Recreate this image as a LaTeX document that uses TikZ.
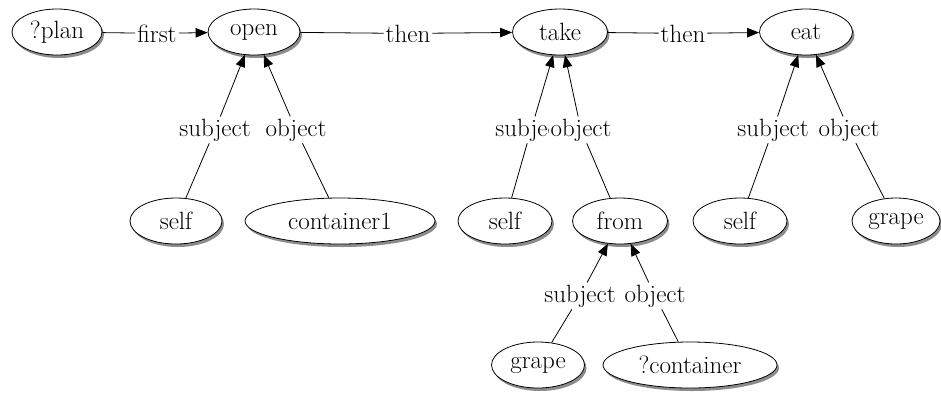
\documentclass[tikz,border=0pt]{standalone}
\usepackage{fontspec}
\usetikzlibrary{shapes.geometric,shadows,arrows.meta}
\begin{document}
\begin{tikzpicture}[x=1pt,y=-1pt,
		font=\fontsize{25}{30}\selectfont,
		ent/.style={ellipse,draw,line width=0.8pt,fill=white,inner sep=0pt,
			minimum height=46,minimum width=#1,
			drop shadow={shadow xshift=2pt,shadow yshift=-3pt,opacity=1,fill=black!45}},
		ent/.default=93,
		lbl/.style={fill=white,inner sep=2pt,anchor=base},
		arr/.style={-{Triangle[length=12pt,width=9.5pt]}}]
		\useasboundingbox (0,0) rectangle (941,392);
		\node[ent=90] (plan) at (57,32) {?plan};
		\node[ent=92] (open) at (254,32) {open};
		\node[ent=95] (take) at (560,32) {take};
		\node[ent=93] (eat) at (806,32) {eat};
		\node[ent=92] (self1) at (176,221) {self};
		\node[ent=190] (cont1) at (340,221) {container1};
		\node[ent=94] (self2) at (505,221) {self};
		\node[ent=95] (from) at (620,221) {from};
		\node[ent=94] (self3) at (740,221) {self};
		\node[ent=88] (grape1) at (896,221) {grape};
		\node[ent=93] (grape2) at (538,365) {grape};
		\node[ent=174] (qcont) at (690,365) {?container};
		\node[lbl] (first) at (157,42) {first};
		\node[lbl] (then1) at (408,42) {then};
		\node[lbl] (then2) at (683,42) {then};
		\node[lbl] (osub) at (215,136) {subject};
		\node[lbl] (oobj) at (296,136) {object};
		\node[lbl] (tsub) at (531,136) {subject};
		\node[lbl] (tobj) at (581,136) {object};
		\node[lbl] (esub) at (773,136) {subject};
		\node[lbl] (eobj) at (849,136) {object};
		\node[lbl] (fsub) at (580,302) {subject};
		\node[lbl] (fobj) at (655,302) {object};
		\begin{scope}[line width=0.8pt]
		\draw (plan) to (first);
		\draw[arr] (first) to (open);
		\draw (open) to (then1);
		\draw[arr] (then1) to (take);
		\draw (take) to (then2);
		\draw[arr] (then2) to (eat);
		\draw (self1) to (osub);
		\draw[arr] (osub) to (open);
		\draw (cont1) to (oobj);
		\draw[arr] (oobj) to (open);
		\draw (self2) to (tsub);
		\draw[arr] (tsub) to (take);
		\draw (from) to (tobj);
		\draw[arr] (tobj) to (take);
		\draw (self3) to (esub);
		\draw[arr] (esub) to (eat);
		\draw (grape1) to (eobj);
		\draw[arr] (eobj) to (eat);
		\draw (grape2) to (fsub);
		\draw[arr] (fsub) to (from);
		\draw (qcont) to (fobj);
		\draw[arr] (fobj) to (from);
		\end{scope}
		\end{tikzpicture}
\end{document}
